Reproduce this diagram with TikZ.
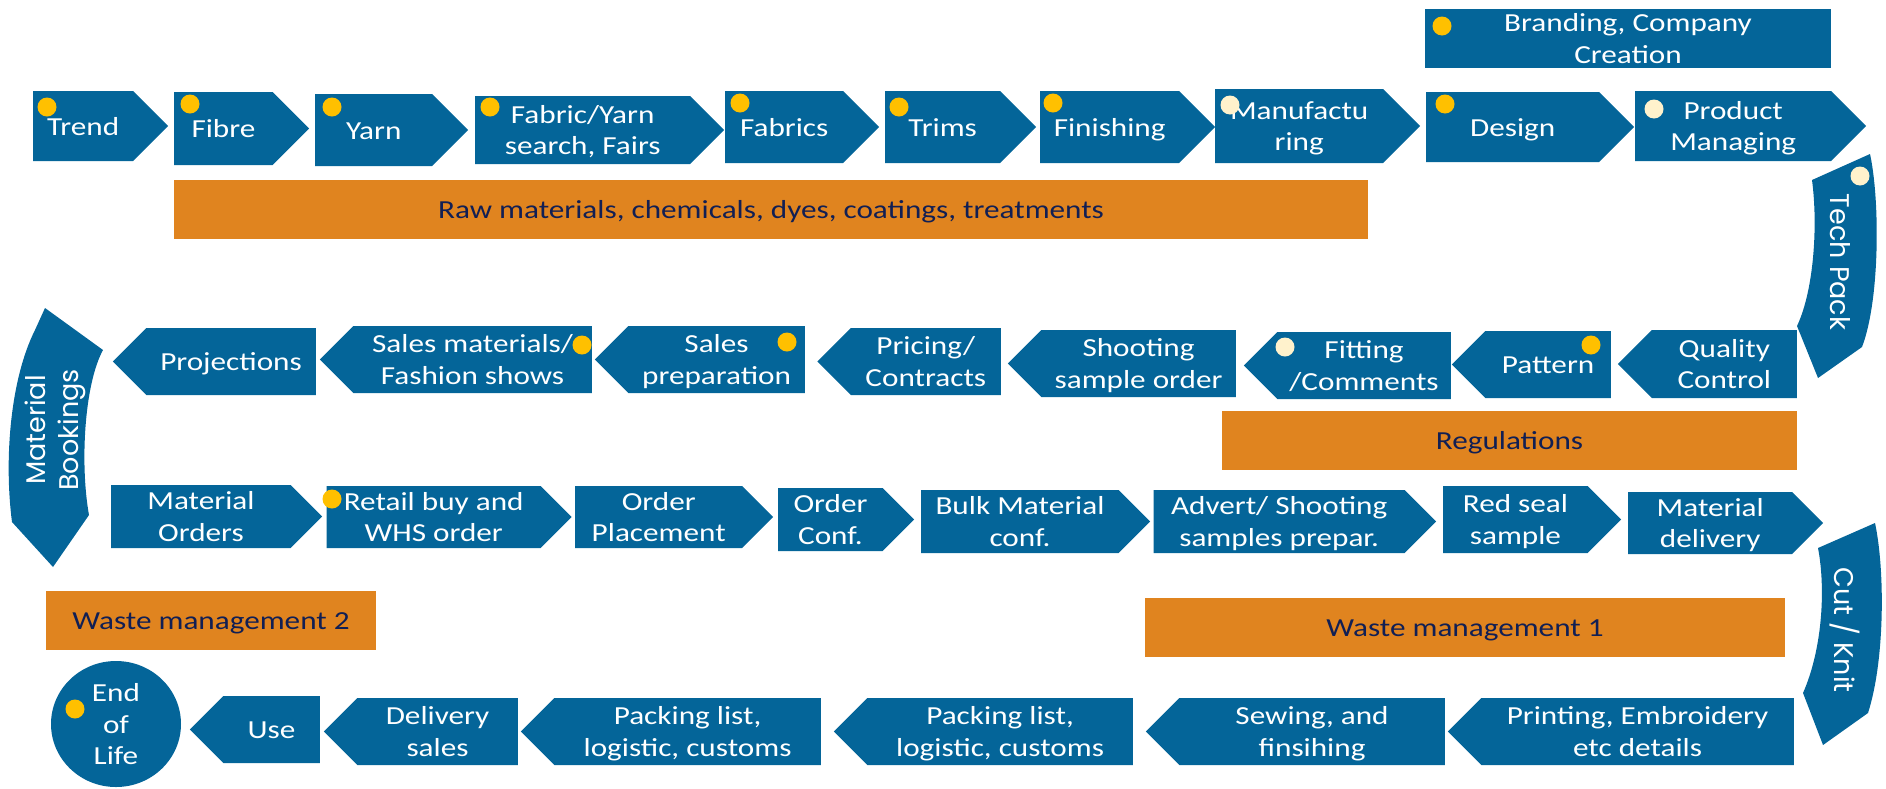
\documentclass[tikz,border=0pt]{standalone}
\usepackage{fontspec}
\setmainfont{Carlito}[FakeStretch=1.2]
\newfontfamily\gothfont{Poppins}
\usetikzlibrary{shapes.symbols,shapes.geometric}
\definecolor{flowblue}{RGB}{4,101,153}
\definecolor{floworange}{RGB}{224,132,31}
\definecolor{flownavy}{RGB}{17,31,84}
\definecolor{dotyellow}{RGB}{255,192,0}
\definecolor{dotcream}{RGB}{255,242,204}

\begin{document}
\begin{tikzpicture}[x=1pt,y=-1pt,
	every node/.style={font=\fontsize{26}{31.5}\selectfont, align=center, inner sep=2pt},
	fwd/.style 2 args={shape=signal, signal to=east, signal from=nowhere, signal pointer angle=90, fill=flowblue, text=white, anchor=west, minimum width=#1, minimum height=#2, text height=18pt, text depth=0pt},
	back/.style 2 args={shape=signal, signal to=west, signal from=nowhere, signal pointer angle=90, fill=flowblue, text=white, anchor=east, minimum width=#1, minimum height=#2, text height=18pt, text depth=0pt},
	two/.style={text height=49.5pt, text depth=0pt},
	band/.style={fill=floworange, text=flownavy, minimum width=#1, minimum height=59, text height=18pt, text depth=0pt},
	dot/.style={circle, fill=dotyellow, inner sep=0pt, minimum size=19},
	pale/.style={dot, fill=dotcream},
	turn/.style={font=\gothfont\fontsize{27}{33}\selectfont, text=white}]
		\useasboundingbox (0,0) rectangle (1886,788);

		\node[fill=flowblue, text=white, minimum width=406, minimum height=59, inner ysep=0pt, two] (branding) at (1628,38.5) {Branding, Company\\Creation};

		\node[fwd={135}{70}] (trend) at (33,126) {Trend};
		\node[fwd={135}{73}] (fibre) at (174,128.5) {Fibre};
		\node[fwd={153}{72}] (yarn) at (315,130) {Yarn};
		\node[fwd={249}{68}, two] (search) at (475,130) {Fabric/Yarn\\search, Fairs};
		\node[fwd={154}{72}] (fabrics) at (725,127) {Fabrics};
		\node[fwd={151}{72}] (trims) at (885,127) {Trims};
		\node[fwd={175}{72}] (finishing) at (1040,127) {Finishing};
		\node[fwd={205}{74}, two] (manufacturing) at (1215,126) {Manufactu\\ring};
		\node[fwd={208}{70}] (design) at (1426,127) {Design};
		\node[fwd={231}{70}, two] (managing) at (1635,126) {Product\\Managing};

		\node[band=1194] (rawmat) at (771,209.5) {Raw materials, chemicals, dyes, coatings, treatments};

		\fill[flowblue] (1870,154) -- (1812,180) .. controls (1818,225) and (1814,290) .. (1797,326) -- (1818,378) -- (1862,347) .. controls (1880,300) and (1880,200) .. (1870,154) -- cycle;
		\node[turn, rotate=-90] (techpack) at (1840,262) {Tech Pack};

		\node[back={179}{68}, two] (quality) at (1797,364) {Quality\\Control};
		\node[back={159}{67}] (pattern) at (1611,364.5) {Pattern};
		\node[back={207}{67}, two] (fitting) at (1451,365.5) {Fitting\\/Comments};
		\node[back={228}{67}, two] (shooting) at (1236,363.5) {Shooting\\sample order};
		\node[back={183.5}{67}, two] (pricing) at (1001,361.5) {Pricing/\\Contracts};
		\node[back={210}{67}, two] (salesprep) at (805,359.5) {Sales\\preparation};
		\node[back={272}{67}, two] (salesmat) at (592,359.5) {Sales materials/\\Fashion shows};
		\node[back={203}{67}] (projections) at (316,361.5) {Projections};

		\node[band=575] (regulations) at (1509.5,440.5) {Regulations};

		\fill[flowblue] (45,308) -- (103,350) .. controls (84,385) and (80,465) .. (89,515) -- (53,567) -- (12,522) .. controls (4,460) and (10,380) .. (35,330) -- cycle;
		\node[turn, rotate=90] (bookings) at (55,430) {Material\\Bookings};

		\node[fwd={211}{63}, two] (matorders) at (111,516.5) {Material\\Orders};
		\node[fwd={245}{62}, two] (retail) at (326.5,517) {Retail buy and\\WHS order};
		\node[fwd={198}{62}, two] (placement) at (575,517) {Order\\Placement};
		\node[fwd={136}{63}, two] (orderconf) at (778,519.5) {Order\\Conf.};
		\node[fwd={229}{63}, two] (bulk) at (921,521.5) {Bulk Material\\conf.};
		\node[fwd={282.5}{63}, two] (advert) at (1153.5,521.5) {Advert/ Shooting\\samples prepar.};
		\node[fwd={178}{67}, two] (redseal) at (1443,519.5) {Red seal\\sample};
		\node[fwd={195}{62}, two] (matdelivery) at (1628,523) {Material\\delivery};

		\node[band=640] (waste1) at (1465,627.5) {Waste management 1};
		\node[band=330] (waste2) at (211,620.5) {Waste management 2};

		\fill[flowblue] (1875,523) -- (1818,548) .. controls (1826,590) and (1822,650) .. (1803,693) -- (1823,745) -- (1868,713) .. controls (1885,660) and (1885,570) .. (1875,523) -- cycle;
		\node[turn, rotate=-90] (cutknit) at (1845,630) {Cut / Knit};

		\node[back={346}{67}, two] (printing) at (1794,731.5) {Printing, Embroidery\\etc details};
		\node[back={299}{67}, two] (sewing) at (1445,731.5) {Sewing, and\\finsihing};
		\node[back={299}{67}, two] (packing) at (1133,731.5) {Packing list,\\logistic, customs};
		\node[back={300}{67}, two] (logistic) at (821,731.5) {Packing list,\\logistic, customs};
		\node[back={194}{67}, two] (delivery) at (518,731.5) {Delivery\\sales};
		\node[back={130}{67}] (use) at (320,729.5) {Use};
		\node[ellipse, fill=flowblue, text=white, minimum width=130, minimum height=126, inner sep=0pt, text height=81pt, text depth=0pt] (endoflife) at (116,724) {End\\of\\Life};

		\node[dot] (brandingdot) at (1442,26) {};
		\node[dot] (trenddot) at (47,107) {};
		\node[dot] (fibredot) at (190,104) {};
		\node[dot] (yarndot) at (332,107) {};
		\node[dot] (searchdot) at (490,107) {};
		\node[dot] (fabricsdot) at (740,103) {};
		\node[dot] (trimsdot) at (899,107) {};
		\node[dot] (finishingdot) at (1053,103) {};
		\node[pale] (manufacturingdot) at (1230,105) {};
		\node[dot] (designdot) at (1445,104) {};
		\node[pale] (managingdot) at (1654,109) {};
		\node[pale] (techpackdot) at (1860,176) {};
		\node[dot] (patterndot) at (1591,345) {};
		\node[pale] (fittingdot) at (1285,347) {};
		\node[dot] (salesprepdot) at (787,342) {};
		\node[dot] (salesmatdot) at (582,345) {};
		\node[dot] (retaildot) at (332,499) {};
		\node[dot] (endoflifedot) at (75,709) {};
\end{tikzpicture}
\end{document}
